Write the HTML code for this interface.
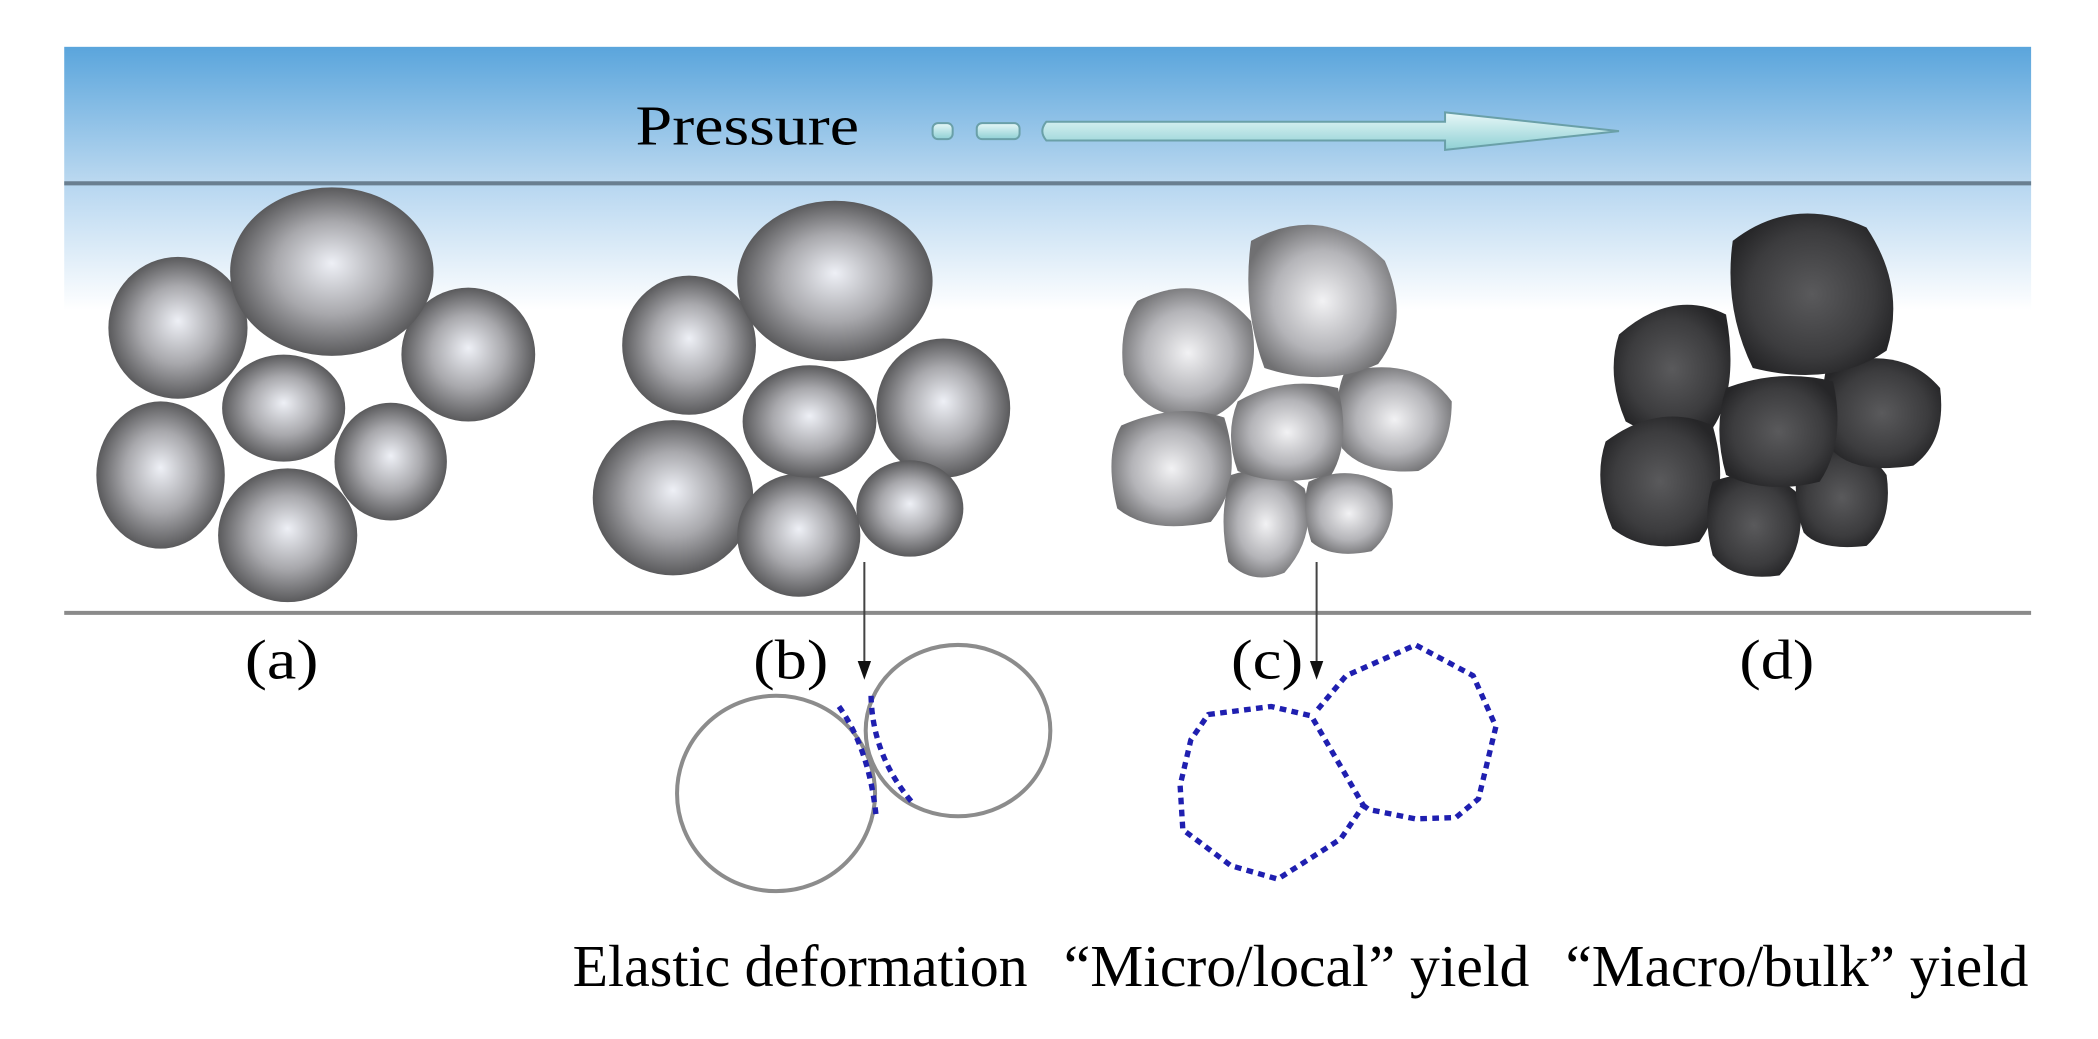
<!DOCTYPE html>
<html><head><meta charset="utf-8"><style>
html,body{margin:0;padding:0;background:#fff;width:2098px;height:1039px;overflow:hidden}
svg{display:block}
text{font-family:"Liberation Serif",serif;fill:#000}
</style></head><body>
<svg width="2098" height="1039" viewBox="0 0 1568 776.5" preserveAspectRatio="none">
<defs>
<linearGradient id="band" x1="0" y1="0" x2="0" y2="1">
<stop offset="0" stop-color="#5aa5dc"/><stop offset="1" stop-color="#bcd9f0"/></linearGradient>
<linearGradient id="band2" x1="0" y1="0" x2="0" y2="1">
<stop offset="0" stop-color="#b6d6f0"/><stop offset="1" stop-color="#ffffff"/></linearGradient>
<radialGradient id="ball" cx="0.5" cy="0.5" r="0.5" fx="0.5" fy="0.45">
<stop offset="0" stop-color="#eef0f6"/><stop offset="0.55" stop-color="#a8a8ac"/><stop offset="1" stop-color="#5a5a5c"/></radialGradient>
<radialGradient id="poly" cx="0.5" cy="0.5" r="0.55">
<stop offset="0" stop-color="#f2f2f4"/><stop offset="0.6" stop-color="#b4b4b8"/><stop offset="1" stop-color="#707072"/></radialGradient>
<radialGradient id="dark" cx="0.5" cy="0.5" r="0.55">
<stop offset="0" stop-color="#5a5a5c"/><stop offset="0.7" stop-color="#3c3c3e"/><stop offset="1" stop-color="#262628"/></radialGradient>
<linearGradient id="arr" x1="0" y1="0" x2="0" y2="1">
<stop offset="0" stop-color="#e8f8f8"/><stop offset="1" stop-color="#8fd0d4"/></linearGradient>
</defs>
<rect x="48" y="35" width="1470" height="102" fill="url(#band)"/>
<rect x="48" y="137" width="1470" height="95" fill="url(#band2)"/>
<line x1="48" y1="137" x2="1518" y2="137" stroke="#6a7f90" stroke-width="3"/>
<line x1="48" y1="458" x2="1518" y2="458" stroke="#8a8a8a" stroke-width="3"/>
<text x="475" y="108" font-size="42" textLength="167" lengthAdjust="spacingAndGlyphs">Pressure</text>
<rect x="697" y="92" width="15" height="12" rx="4" fill="url(#arr)" stroke="#6aa0a8" stroke-width="1.5"/>
<rect x="730" y="92" width="32" height="12" rx="4" fill="url(#arr)" stroke="#6aa0a8" stroke-width="1.5"/>
<path d="M782,91 H1080 V84 L1210,98 L1080,112 V105 H782 Q776,98 782,91Z" fill="url(#arr)" stroke="#6aa0a8" stroke-width="1.5"/>
<g fill="url(#ball)">
<ellipse cx="133" cy="245" rx="52" ry="53"/>
<ellipse cx="120" cy="355" rx="48" ry="55"/>
<ellipse cx="215" cy="400" rx="52" ry="50"/>
<ellipse cx="212" cy="305" rx="46" ry="40"/>
<ellipse cx="292" cy="345" rx="42" ry="44"/>
<ellipse cx="350" cy="265" rx="50" ry="50"/>
<ellipse cx="248" cy="203" rx="76" ry="63"/>
</g>
<g fill="url(#ball)">
<ellipse cx="515" cy="258" rx="50" ry="52"/>
<ellipse cx="705" cy="305" rx="50" ry="52"/>
<ellipse cx="503" cy="372" rx="60" ry="58"/>
<ellipse cx="597" cy="400" rx="46" ry="46"/>
<ellipse cx="680" cy="380" rx="40" ry="36"/>
<ellipse cx="605" cy="315" rx="50" ry="42"/>
<ellipse cx="624" cy="210" rx="73" ry="60"/>
</g>
<g fill="url(#poly)">
<path d="M850,225 Q900,200 935,240 Q945,290 910,310 Q860,320 840,280 Q835,245 850,225Z"/>
<path d="M838,318 Q880,300 915,312 Q930,360 905,390 Q860,400 835,380 Q825,340 838,318Z"/>
<path d="M920,355 Q950,345 975,365 Q985,400 960,428 Q935,438 918,420 Q910,385 920,355Z"/>
<path d="M978,360 Q1010,345 1040,365 Q1045,395 1025,412 Q995,418 980,405 Q972,380 978,360Z"/>
<path d="M1005,278 Q1060,265 1085,300 Q1085,340 1060,352 Q1020,355 1003,335 Q995,300 1005,278Z"/>
<path d="M925,300 Q960,280 1000,290 Q1010,330 995,355 Q955,365 925,352 Q915,325 925,300Z"/>
<path d="M935,180 Q990,150 1035,195 Q1055,240 1030,272 Q990,290 945,275 Q928,230 935,180Z"/>
</g>
<g fill="url(#dark)">
<path d="M1210,250 Q1250,215 1290,235 Q1300,290 1280,320 Q1240,330 1215,315 Q1200,280 1210,250Z"/>
<path d="M1200,330 Q1240,300 1280,318 Q1295,370 1270,405 Q1230,415 1205,395 Q1190,360 1200,330Z"/>
<path d="M1280,360 Q1320,345 1345,370 Q1350,410 1330,430 Q1295,435 1280,415 Q1272,385 1280,360Z"/>
<path d="M1345,340 Q1390,325 1410,355 Q1415,390 1395,408 Q1360,412 1348,398 Q1338,370 1345,340Z"/>
<path d="M1365,275 Q1420,255 1450,290 Q1455,330 1430,348 Q1385,355 1368,335 Q1358,305 1365,275Z"/>
<path d="M1290,290 Q1330,275 1370,285 Q1380,330 1360,360 Q1320,370 1290,355 Q1280,320 1290,290Z"/>
<path d="M1295,180 Q1340,145 1395,170 Q1425,215 1410,262 Q1370,290 1310,275 Q1288,230 1295,180Z"/>
</g>
<text x="183" y="507" font-size="42" textLength="55" lengthAdjust="spacingAndGlyphs">(a)</text>
<text x="563" y="507" font-size="42" textLength="56" lengthAdjust="spacingAndGlyphs">(b)</text>
<text x="920" y="507" font-size="42" textLength="54" lengthAdjust="spacingAndGlyphs">(c)</text>
<text x="1300" y="507" font-size="42" textLength="56" lengthAdjust="spacingAndGlyphs">(d)</text>
<line x1="646" y1="420" x2="646" y2="496" stroke="#444" stroke-width="1.5"/>
<path d="M641,494 L651,494 L646,508Z" fill="#111"/>
<line x1="984" y1="420" x2="984" y2="496" stroke="#444" stroke-width="1.5"/>
<path d="M979,494 L989,494 L984,508Z" fill="#111"/>
<ellipse cx="580" cy="593" rx="74" ry="73" fill="none" stroke="#8c8c8c" stroke-width="3"/>
<ellipse cx="716" cy="546" rx="69" ry="64" fill="none" stroke="#8c8c8c" stroke-width="3"/>
<path d="M627,528 Q650,560 655,612" fill="none" stroke="#1f1fb0" stroke-width="4" stroke-dasharray="5 4"/>
<path d="M651,520 Q652,565 682,600" fill="none" stroke="#1f1fb0" stroke-width="4" stroke-dasharray="5 4"/>
<g fill="none" stroke="#1f1fb0" stroke-width="4" stroke-dasharray="5 4" stroke-linejoin="round">
<path d="M903,534 L950,528 L980,535 L1019,602 L1002,627 L955,657 L920,647 L884,620 L882,587 L890,553Z"/>
<path d="M985,530 L1006,505 L1058,482 L1101,505 L1118,543 L1105,597 L1088,611 L1058,612 L1023,605 L1019,602"/>
</g>
<text x="428" y="737" font-size="44" textLength="340" lengthAdjust="spacingAndGlyphs">Elastic deformation</text>
<text x="795" y="737" font-size="44" textLength="348" lengthAdjust="spacingAndGlyphs">“Micro/local” yield</text>
<text x="1170" y="737" font-size="44" textLength="346" lengthAdjust="spacingAndGlyphs">“Macro/bulk” yield</text>
</svg>
</body></html>
